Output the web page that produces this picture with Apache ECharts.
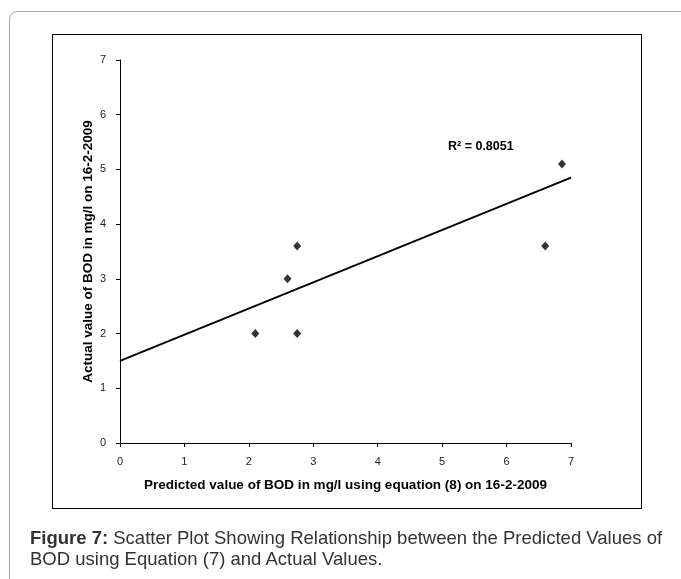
<!DOCTYPE html>
<html>
<head>
<meta charset="utf-8">
<script src="https://cdn.jsdelivr.net/npm/echarts@6/dist/echarts.min.js"></script>
<style>
  html, body { margin: 0; padding: 0; background: #fff; }
  .page { position: relative; width: 681px; height: 579px; overflow: hidden; }
  /* 外框 */
  .outer {
    position: absolute; left: 9px; top: 11px; width: 700px; height: 600px;
    border: 1px solid #a8a8a8; border-radius: 8px; box-sizing: border-box;
  }
  /* 图表框 */
  .inner {
    position: absolute; left: 52px; top: 34px; width: 590px; height: 475px;
    border: 1px solid #000; box-sizing: border-box;
  }
  .chart { position: absolute; left: 0; top: 0; width: 681px; height: 579px; }
  .caption {
    position: absolute; left: 30px; top: 527px; width: 645px;
    font-family: "Liberation Sans", Arial, sans-serif; font-size: 18.5px;
    line-height: 21px; color: #333;
  }
</style>
</head>
<body>
<div class="page">
  <div class="outer"></div>
  <div class="inner"></div>
  <div class="chart" id="chart"></div>
  <div class="caption"><b>Figure 7:</b> Scatter Plot Showing Relationship between the Predicted Values of BOD using Equation (7) and Actual Values.</div>
</div>
<script>
// 数据
const predicted = [2.1, 2.6, 2.75, 2.75, 6.6, 6.86];
const actual = [2.0, 3.0, 3.6, 2.0, 3.6, 5.1];
// 趋势线两端
const trendX = [0, 7];
const trendY = [1.5, 4.85];
const rSquared = "R² = 0.8051";
const xName = "Predicted value of BOD in mg/l using equation (8) on 16-2-2009";
const yName = "Actual value of BOD in mg/l on 16-2-2009";

const font = '"Liberation Sans", Arial, sans-serif';
const chart = echarts.init(document.getElementById("chart"));

const option = {
  animation: false,
  grid: { left: 120, right: 110, top: 60, bottom: 136 },
  xAxis: {
    type: "value", min: 0, max: 7, interval: 1,
    name: xName, nameLocation: "middle", nameGap: 35,
    nameTextStyle: { fontFamily: font, fontSize: 13.5, fontWeight: "bold", color: "#000" },
    axisLine: { show: true, onZero: false, lineStyle: { color: "#000", width: 1 } },
    axisTick: { show: true, length: 4, lineStyle: { color: "#000" } },
    axisLabel: { fontFamily: font, fontSize: 11, color: "#222", margin: 13 },
    splitLine: { show: false },
  },
  yAxis: {
    type: "value", min: 0, max: 7, interval: 1,
    name: yName, nameLocation: "middle", nameGap: 25, nameRotate: 90,
    nameMoveOverlap: false,
    nameTextStyle: { fontFamily: font, fontSize: 13.5, fontWeight: "bold", color: "#000" },
    axisLine: { show: true, onZero: false, lineStyle: { color: "#000", width: 1 } },
    axisTick: { show: true, length: 4, lineStyle: { color: "#000" } },
    axisLabel: { fontFamily: font, fontSize: 11, color: "#222", margin: 14 },
    splitLine: { show: false },
  },
  series: [
    {
      type: "line",
      data: trendX.map((x, i) => [x, trendY[i]]),
      showSymbol: false,
      lineStyle: { color: "#000", width: 2 },
      z: 1,
    },
    {
      type: "scatter",
      data: predicted.map((x, i) => [x, actual[i]]),
      symbol: "diamond",
      symbolSize: [8, 9],
      itemStyle: { color: "#000" },
      z: 2,
    },
  ],
  graphic: [
    {
      type: "text", left: 448, top: 140,
      style: { text: rSquared, fontFamily: font, fontSize: 12.5, fontWeight: "bold", fill: "#000" },
    },
  ],
};
chart.setOption(option);
</script>
</body>
</html>
